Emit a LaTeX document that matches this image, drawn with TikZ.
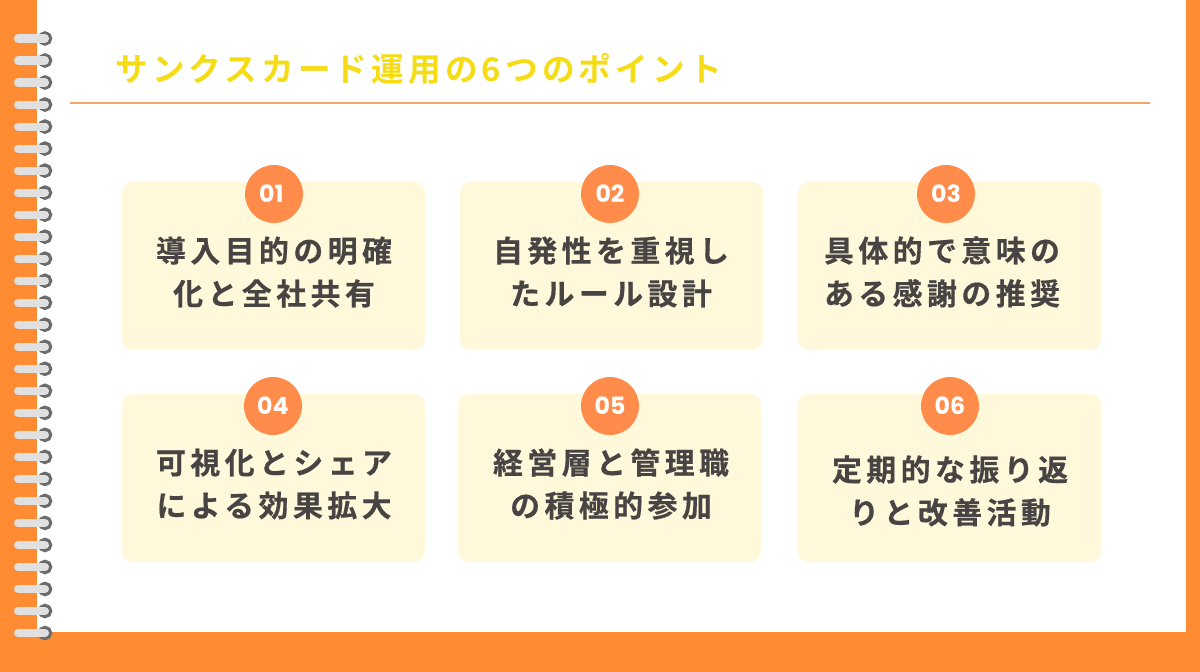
\documentclass[tikz,border=0pt]{standalone}
\usepackage{fontspec}
\usepackage{tikz}
\newfontfamily\jpfont[LetterSpace=15,FakeBold=0.5]{Noto Sans CJK JP Bold}
\newfontfamily\titlefont[LetterSpace=12.5]{Noto Sans CJK JP Bold}
\newfontfamily\numfont{Poppins}
\definecolor{band}{HTML}{FF8C33}
\definecolor{rule}{HTML}{F2A566}
\definecolor{title}{HTML}{F5DC14}
\definecolor{card}{HTML}{FFF8DA}
\definecolor{badge}{HTML}{FF8C4B}
\definecolor{ink}{HTML}{484444}
\definecolor{ringgray}{HTML}{6B6B6B}
\definecolor{bargray}{HTML}{E0E0E0}
\tikzset{%
    x=0.02cm, y=-0.02cm,
    cardbox/.style={fill=card, rounded corners=6pt, minimum width=6.06cm, minimum height=3.36cm, inner sep=0},
    badgedot/.style={circle, fill=badge, minimum size=1.16cm, inner sep=0, text=white, font=\numfont\bfseries\fontsize{13.5}{14}\selectfont},
    cardtext/.style={text=ink, align=center, inner sep=0, font=\jpfont\fontsize{17}{24.4}\selectfont},
}
\begin{document}
\begin{tikzpicture}
        \useasboundingbox (0,0) rectangle (1200,672);
        % paper and binding
        \fill[band] (0,0) rectangle (1200,672);
        \fill[white] (37,0) rectangle (1186,632);

        \foreach \i in {0,...,27} {
            \draw[ringgray, line width=2pt] (45,38.5+22.02*\i) circle [radius=5.5];
            \draw[bargray, line width=4.6pt, line cap=round] (18,38.5+22.02*\i) -- (45,38.5+22.02*\i);
        }

        % heading
        \node[anchor=west, inner sep=0, text=title, font=\titlefont\fontsize{18.6}{20}\selectfont] (heading) at (115,69) {サンクスカード運用の6つのポイント};
        \draw[rule, line width=1.2pt] (70,103) -- (1150,103);

        % cards
        \node[cardbox] (card1) at (273.5,266) {};
        \node[cardbox] (card2) at (611.5,266) {};
        \node[cardbox] (card3) at (949.5,266) {};
        \node[cardbox] (card4) at (273.5,478) {};
        \node[cardbox] (card5) at (609.5,478) {};
        \node[cardbox] (card6) at (949.5,478) {};

        \node[badgedot] (badge1) at (274,194) {\hspace*{-3pt}01};
        \node[badgedot] (badge2) at (610,194) {02};
        \node[badgedot] (badge3) at (946,194) {03};
        \node[badgedot] (badge4) at (273,406) {04};
        \node[badgedot] (badge5) at (610,406) {05};
        \node[badgedot] (badge6) at (950,406) {06};

        \node[cardtext] (text1) at (274,272) {導入目的の明確\\化と全社共有};
        \node[cardtext] (text2) at (611,272) {自発性を重視し\\たルール設計};
        \node[cardtext] (text3) at (942,272) {具体的で意味の\\ある感謝の推奨};
        \node[cardtext] (text4) at (274,484) {可視化とシェア\\による効果拡大};
        \node[cardtext] (text5) at (611,484) {経営層と管理職\\の積極的参加};
        \node[cardtext] (text6) at (950,491) {定期的な振り返\\りと改善活動};
\end{tikzpicture}
\end{document}
